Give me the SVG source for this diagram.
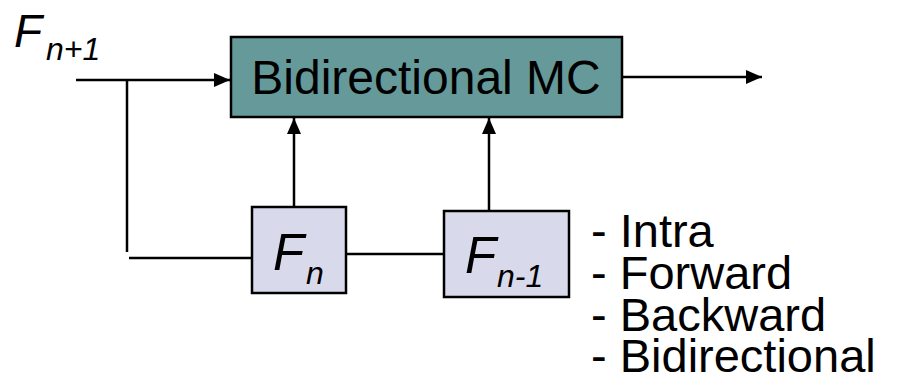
<svg xmlns="http://www.w3.org/2000/svg" width="901" height="383" viewBox="0 0 901 383">
  <style>
    .box { stroke: #000; stroke-width: 2.5; }
    .mc { fill: #669999; }
    .frame { fill: #d9d9ec; }
    .wire { fill: none; stroke: #000; stroke-width: 2.5; }
    text { font-family: "Liberation Sans", Arial, sans-serif; fill: #000; }
    .it { font-style: italic; }
  </style>
  <defs>
    <marker id="arrow" viewBox="0 0 16 14" refX="16" refY="7" markerWidth="16" markerHeight="14" markerUnits="userSpaceOnUse" orient="auto">
      <path d="M0,0 L16,7 L0,14 Z" fill="#000"/>
    </marker>
  </defs>

  <rect width="901" height="383" fill="#fff"/>

  <!-- connectors -->
  <g id="connectors">
    <line class="wire" x1="76" y1="80" x2="230" y2="80" marker-end="url(#arrow)"/>
    <line class="wire" x1="127" y1="80" x2="127" y2="252"/>
    <line class="wire" x1="129" y1="258" x2="252" y2="258"/>
    <line class="wire" x1="346" y1="254" x2="444" y2="254"/>
    <line class="wire" x1="294" y1="207" x2="294" y2="118" marker-end="url(#arrow)"/>
    <line class="wire" x1="489" y1="211" x2="489" y2="118" marker-end="url(#arrow)"/>
    <line class="wire" x1="608" y1="77" x2="762" y2="77" marker-end="url(#arrow)"/>
  </g>

  <!-- input frame label -->
  <g id="input">
    <text x="14" y="47" font-size="46" class="it">F</text>
    <text x="46" y="60" font-size="32" class="it">n+1</text>
  </g>

  <!-- motion compensation block -->
  <g id="mc">
    <rect class="box mc" x="231" y="37" width="391" height="80"/>
    <text x="426" y="94" font-size="48" text-anchor="middle">Bidirectional MC</text>
  </g>

  <!-- reference frame n -->
  <g id="fn">
    <rect class="box frame" x="252" y="207" width="94" height="86"/>
    <text x="273" y="270" font-size="51" class="it">F</text>
    <text x="306" y="284" font-size="32" class="it">n</text>
  </g>

  <!-- reference frame n-1 -->
  <g id="fn1">
    <rect class="box frame" x="444" y="211" width="125" height="86"/>
    <text x="465" y="273" font-size="51" class="it">F</text>
    <text x="497" y="287" font-size="32" class="it">n-1</text>
  </g>

  <!-- prediction modes -->
  <g id="modes" font-size="47">
    <text x="591" y="247">- Intra</text>
    <text x="591" y="289">- Forward</text>
    <text x="591" y="331">- Backward</text>
    <text x="591" y="372">- Bidirectional</text>
  </g>
</svg>
